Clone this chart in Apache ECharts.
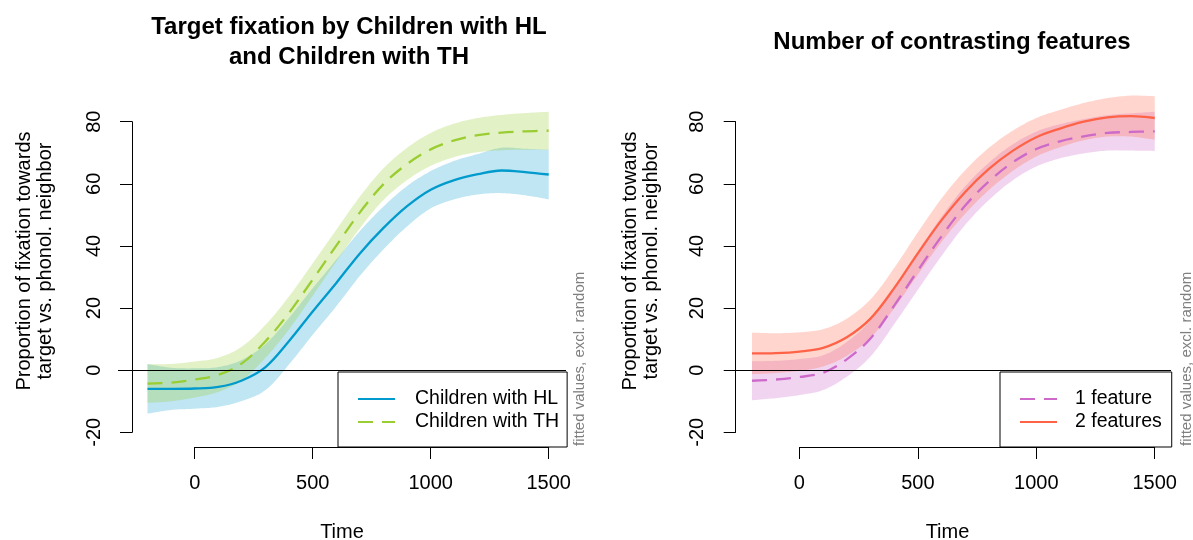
<!DOCTYPE html>
<html>
<head>
<meta charset="utf-8">
<title>Target fixation</title>
<script src="https://cdn.jsdelivr.net/npm/echarts@6/dist/echarts.min.js"></script>
<style>
  html, body { margin: 0; padding: 0; background: #fff; }
  #chart { width: 1193px; height: 540px; }
</style>
</head>
<body>
<div id="chart"></div>
<script>
// time points (ms)
const time = [-200, -100, 0, 100, 200, 300, 400, 500, 600, 700, 800, 900, 1000, 1100, 1200, 1300, 1400, 1500];

// left panel: children with HL / TH (fit + CI)
const hlFit   = [-6.0, -6.0, -5.9, -5.4, -3.3, 1.0, 9.4, 18.9, 28.1, 37.6, 45.8, 52.8, 58.1, 61.2, 63.1, 64.3, 63.8, 63.0];
const hlLower = [-14.0, -12.8, -12.4, -11.8, -9.9, -6.4, 1.9, 11.4, 20.6, 30.4, 38.9, 46.3, 52.1, 55.0, 56.6, 57.0, 56.3, 55.0];
const hlUpper = [2.0, 0.8, 0.6, 1.0, 3.3, 8.4, 16.9, 26.4, 35.6, 44.8, 52.7, 59.3, 64.1, 67.4, 69.6, 71.6, 71.3, 71.0];
const thFit   = [-4.3, -4.0, -3.0, -1.5, 2.2, 9.3, 18.5, 29.2, 40.1, 50.8, 59.9, 66.4, 71.1, 74.0, 75.7, 76.5, 76.9, 77.1];
const thLower = [-10.5, -10.0, -8.8, -7.0, -3.2, 4.0, 13.2, 24.0, 35.0, 45.7, 54.8, 61.2, 65.8, 68.6, 70.2, 70.8, 71.0, 71.0];
const thUpper = [1.9, 2.0, 2.8, 4.0, 7.6, 14.6, 23.8, 34.4, 45.2, 55.9, 65.0, 71.6, 76.4, 79.4, 81.2, 82.2, 82.8, 83.2];

// right panel: number of contrasting features
const oneFit   = [-3.4, -3.0, -2.2, -0.8, 3.5, 10.2, 20.8, 32.1, 43.1, 53.0, 60.8, 66.9, 71.2, 73.7, 75.3, 76.4, 76.7, 76.9];
const oneLower = [-9.7, -9.0, -8.0, -6.4, -2.1, 4.4, 14.8, 25.9, 36.8, 46.8, 54.8, 61.1, 65.6, 68.2, 69.8, 70.7, 70.7, 70.6];
const oneUpper = [2.9, 3.0, 3.6, 4.8, 9.1, 16.0, 26.8, 38.3, 49.4, 59.2, 66.8, 72.7, 76.8, 79.2, 80.8, 82.1, 82.7, 83.2];
const twoFit   = [5.4, 5.5, 6.0, 7.2, 10.6, 16.6, 26.4, 37.6, 48.3, 57.4, 64.8, 70.6, 75.0, 77.8, 80.0, 81.4, 81.8, 81.2];
const twoLower = [-1.3, -0.9, -0.2, 1.2, 4.6, 10.4, 19.9, 30.8, 41.3, 50.4, 58.0, 64.1, 68.8, 71.8, 74.0, 75.2, 75.2, 74.2];
const twoUpper = [12.1, 11.9, 12.2, 13.2, 16.6, 22.8, 32.9, 44.4, 55.3, 64.4, 71.6, 77.1, 81.2, 83.8, 86.0, 87.6, 88.4, 88.2];

// axis ticks
const xTickMin = 0, xTickMax = 1500, xTickStep = 500;
const yTickMin = -20, yTickMax = 80, yTickStep = 20;

const font = "'Liberation Sans', Arial, sans-serif";
const colors = {
  hl: '#009ACD',            // deepskyblue3
  hlBand: 'rgba(0,154,205,0.25)',
  th: '#9ACD32',            // yellowgreen
  thBand: 'rgba(154,205,50,0.28)',
  one: '#CD69C9',           // orchid3
  oneBand: 'rgba(205,105,201,0.28)',
  two: '#FF6347',           // tomato
  twoBand: 'rgba(255,99,71,0.27)'
};

const SMOOTH = 0.35;
const pairs = ys => time.map((t, i) => [t, ys[i]]);

// same bezier smoothing as the line series, so band edges follow the fitted lines
function smoothPoints(pts) {
  const n = pts.length, before = [], after = [];
  for (let i = 0; i < n; i++) {
    const p = pts[i];
    if (i === 0 || i === n - 1) { before[i] = p; after[i] = p; continue; }
    const a = pts[i - 1], b = pts[i + 1];
    const vx = b[0] - a[0], vy = b[1] - a[1];
    const l0 = Math.hypot(p[0] - a[0], p[1] - a[1]);
    const l1 = Math.hypot(b[0] - p[0], b[1] - p[1]);
    const r = l1 / (l0 + l1);
    before[i] = [p[0] - vx * SMOOTH * (1 - r), p[1] - vy * SMOOTH * (1 - r)];
    after[i] = [p[0] + vx * SMOOTH * r, p[1] + vy * SMOOTH * r];
  }
  const out = [pts[0]];
  for (let i = 0; i < n - 1; i++) {
    const p0 = pts[i], c0 = after[i], c1 = before[i + 1], p1 = pts[i + 1];
    for (let k = 1; k <= 12; k++) {
      const t = k / 12, u = 1 - t;
      out.push([
        u * u * u * p0[0] + 3 * u * u * t * c0[0] + 3 * u * t * t * c1[0] + t * t * t * p1[0],
        u * u * u * p0[1] + 3 * u * u * t * c0[1] + 3 * u * t * t * c1[1] + t * t * t * p1[1]
      ]);
    }
  }
  return out;
}

function band(name, lower, upper, color, idx) {
  return {
    name, type: 'custom', xAxisIndex: idx, yAxisIndex: idx, silent: true,
    data: [[time[0], lower[0]]],
    renderItem: (params, api) => {
      const top = smoothPoints(time.map((t, i) => api.coord([t, upper[i]])));
      const bottom = smoothPoints(time.map((t, i) => api.coord([t, lower[i]])));
      return {
        type: 'polygon',
        shape: { points: top.concat(bottom.reverse()) },
        style: { fill: color }
      };
    }
  };
}

function fitLine(name, ys, color, dashed, idx) {
  return {
    name, type: 'line', xAxisIndex: idx, yAxisIndex: idx,
    data: pairs(ys), smooth: SMOOTH, symbol: 'none', silent: true,
    lineStyle: { color, width: 2.3, type: dashed ? [15, 9] : 'solid' },
    itemStyle: { color }, emphasis: { disabled: true }
  };
}

const zeroLine = {
  silent: true, symbol: ['none', 'none'], label: { show: false },
  lineStyle: { color: '#000', width: 1, type: 'solid' },
  data: [{ yAxis: 0 }]
};

// hidden axes of the plotting region (carry the axis titles)
function plotX(gi, min, max) {
  return {
    gridIndex: gi, type: 'value', min, max,
    axisLine: { show: false }, axisTick: { show: false }, axisLabel: { show: false }, splitLine: { show: false },
    name: 'Time', nameLocation: 'middle', nameGap: 75,
    nameTextStyle: { color: '#000', fontSize: 20, fontFamily: font }
  };
}
function plotY(gi) {
  return {
    gridIndex: gi, type: 'value', min: -24.73, max: 95.04,
    axisLine: { show: false }, axisTick: { show: false }, axisLabel: { show: false }, splitLine: { show: false },
    name: 'Proportion of fixation towards\ntarget vs. phonol. neighbor',
    nameLocation: 'middle', nameGap: 62,
    nameTextStyle: { color: '#000', fontSize: 20, lineHeight: 21, fontFamily: font }
  };
}
// visible R-style axes, only as long as the tick range
function tickX(gi) {
  return {
    gridIndex: gi, type: 'value', min: xTickMin, max: xTickMax, interval: xTickStep, offset: 14.7,
    axisLine: { onZero: false, lineStyle: { color: '#000', width: 1 } },
    axisTick: { length: 12, lineStyle: { color: '#000', width: 1 } },
    axisLabel: { color: '#000', fontSize: 20, fontFamily: font, margin: 26, formatter: v => String(v) },
    splitLine: { show: false }
  };
}
function tickY(gi, offset) {
  return {
    gridIndex: gi, type: 'value', min: yTickMin, max: yTickMax, interval: yTickStep, offset,
    axisLine: { show: true, onZero: false, lineStyle: { color: '#000', width: 1 } },
    axisTick: { show: true, length: 12, lineStyle: { color: '#000', width: 1 } },
    axisLabel: { color: '#000', fontSize: 20, fontFamily: font, rotate: 90, margin: 28, formatter: v => String(v) },
    splitLine: { show: false }
  };
}

function legendBox(names, left, padding, textPad) {
  return {
    data: names, orient: 'vertical', left, top: 372,
    padding, itemWidth: 37, itemHeight: 14, itemGap: 3,
    backgroundColor: '#fff', borderColor: '#000', borderWidth: 1, borderRadius: 0,
    selectedMode: false,
    itemStyle: { opacity: 0 },   // hide the symbol, keep the line sample
    textStyle: { color: '#000', fontSize: 19.5, lineHeight: 20, fontFamily: font, padding: [0, 0, 0, textPad] }
  };
}

const chart = echarts.init(document.getElementById('chart'), null, { renderer: 'canvas' });

const option = {
  animation: false,
  backgroundColor: '#fff',
  textStyle: { fontFamily: font },
  title: [
    {
      text: 'Target fixation by Children with HL\nand Children with TH',
      left: 349, top: 12, textAlign: 'center', padding: 0,
      textStyle: { color: '#000', fontSize: 24, fontWeight: 'bold', lineHeight: 30, fontFamily: font }
    },
    {
      text: 'Number of contrasting features',
      left: 952, top: 27, textAlign: 'center', padding: 0,
      textStyle: { color: '#000', fontSize: 24, fontWeight: 'bold', lineHeight: 30, fontFamily: font }
    }
  ],
  legend: [
    legendBox(['Children with HL', 'Children with TH'], 338, [17, 8, 15, 19], 15),
    legendBox(['1 feature', '2 features'], 1000, [17, 10, 15, 19], 13)
  ],
  grid: [
    { left: 118, top: 75, width: 448, height: 372, outerBoundsMode: 'none' },
    { left: 194.7, top: 121.7, width: 354, height: 310.6, outerBoundsMode: 'none' },
    { left: 724, top: 75, width: 447, height: 372, outerBoundsMode: 'none' },
    { left: 799.4, top: 121.7, width: 355.3, height: 310.6, outerBoundsMode: 'none' }
  ],
  xAxis: [plotX(0, -325, 1573.3), tickX(1), plotX(2, -318.3, 1568.6), tickX(3)],
  yAxis: [plotY(0), tickY(1, 62.7), plotY(2), tickY(3, 63.7)],
  graphic: [
    {
      type: 'text', x: 580, y: 446, rotation: Math.PI / 2, silent: true,
      style: { text: 'fitted values, excl. random', fill: '#7f7f7f', fontSize: 15, fontFamily: font, align: 'left', verticalAlign: 'middle' }
    },
    {
      type: 'text', x: 1187, y: 446, rotation: Math.PI / 2, silent: true,
      style: { text: 'fitted values, excl. random', fill: '#7f7f7f', fontSize: 15, fontFamily: font, align: 'left', verticalAlign: 'middle' }
    }
  ],
  series: [
    band('HL band', hlLower, hlUpper, colors.hlBand, 0),
    fitLine('Children with HL', hlFit, colors.hl, false, 0),
    band('TH band', thLower, thUpper, colors.thBand, 0),
    Object.assign(fitLine('Children with TH', thFit, colors.th, true, 0), { markLine: zeroLine }),

    band('1 feature band', oneLower, oneUpper, colors.oneBand, 2),
    fitLine('1 feature', oneFit, colors.one, true, 2),
    band('2 features band', twoLower, twoUpper, colors.twoBand, 2),
    Object.assign(fitLine('2 features', twoFit, colors.two, false, 2), { markLine: zeroLine })
  ]
};

chart.setOption(option);
window.addEventListener('resize', () => chart.resize());
</script>
</body>
</html>
